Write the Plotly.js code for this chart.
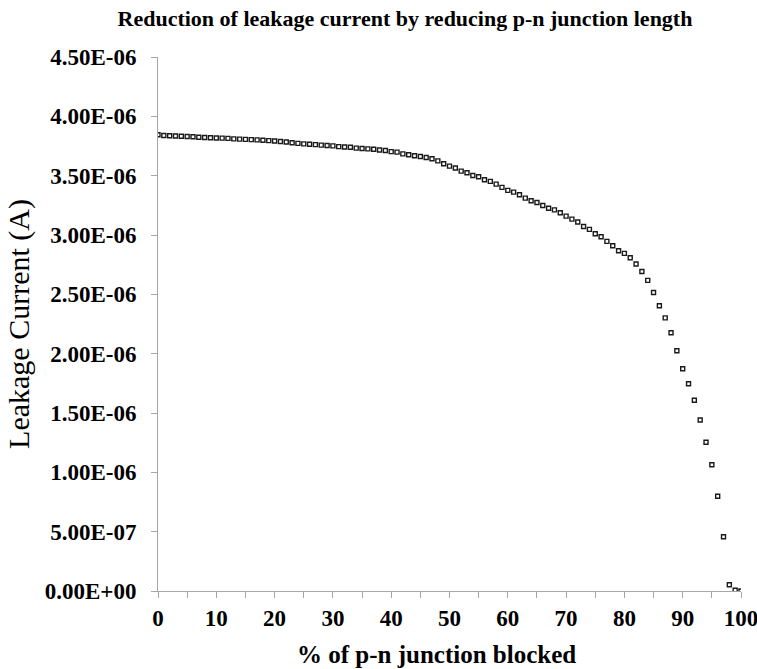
<!DOCTYPE html>
<html>
<head>
<meta charset="utf-8">
<script src="https://cdn.plot.ly/plotly-3.0.1.min.js"></script>
<style>
  html, body { margin: 0; padding: 0; background: #ffffff; }
  #chart { width: 757px; height: 669px; }
</style>
</head>
<body>
<div id="chart"></div>
<script>
// Percentage of the p-n junction that is blocked
const blockedPct = [
  0, 1, 2, 3, 4, 5, 6, 7, 8, 9,
  10, 11, 12, 13, 14, 15, 16, 17, 18, 19,
  20, 21, 22, 23, 24, 25, 26, 27, 28, 29,
  30, 31, 32, 33, 34, 35, 36, 37, 38, 39,
  40, 41, 42, 43, 44, 45, 46, 47, 48, 49,
  50, 51, 52, 53, 54, 55, 56, 57, 58, 59,
  60, 61, 62, 63, 64, 65, 66, 67, 68, 69,
  70, 71, 72, 73, 74, 75, 76, 77, 78, 79,
  80, 81, 82, 83, 84, 85, 86, 87, 88, 89,
  90, 91, 92, 93, 94, 95, 96, 97, 98, 99,
  100
];

// Leakage current in microamps for each blocked percentage
const leakageMicroA = [
  3.845, 3.838, 3.836, 3.834, 3.832, 3.830, 3.828, 3.824, 3.822, 3.820,
  3.818, 3.816, 3.814, 3.810, 3.808, 3.806, 3.804, 3.802, 3.798, 3.795,
  3.792, 3.788, 3.784, 3.778, 3.772, 3.768, 3.765, 3.762, 3.757, 3.754,
  3.751, 3.745, 3.742, 3.740, 3.732, 3.729, 3.726, 3.722, 3.716, 3.712,
  3.703, 3.698, 3.684, 3.676, 3.668, 3.661, 3.653, 3.642, 3.625, 3.600,
  3.580, 3.564, 3.538, 3.524, 3.502, 3.491, 3.465, 3.452, 3.429, 3.401,
  3.376, 3.361, 3.339, 3.311, 3.288, 3.274, 3.249, 3.226, 3.212, 3.187,
  3.159, 3.134, 3.109, 3.072, 3.047, 3.010, 2.985, 2.946, 2.909, 2.867,
  2.845, 2.808, 2.755, 2.693, 2.618, 2.516, 2.404, 2.302, 2.176, 2.024,
  1.873, 1.746, 1.607, 1.441, 1.253, 1.064, 0.798, 0.457, 0.053, 0.006,
  0.000
];

// Y-axis tick positions and their scientific labels
const yTickVals = [0, 0.5e-6, 1.0e-6, 1.5e-6, 2.0e-6, 2.5e-6, 3.0e-6, 3.5e-6, 4.0e-6, 4.5e-6];
const yTickText = ["0.00E+00", "5.00E-07", "1.00E-06", "1.50E-06", "2.00E-06",
                   "2.50E-06", "3.00E-06", "3.50E-06", "4.00E-06", "4.50E-06"];

// X-axis labelled ticks
const xTickVals = [0, 10, 20, 30, 40, 50, 60, 70, 80, 90, 100];
const xTickText = ["0", "10", "20", "30", "40", "50", "60", "70", "80", "90", "100"];

const leakageAmps = leakageMicroA.map(v => v * 1e-6);

const serif = "'Liberation Serif', 'Times New Roman', serif";
const axisGrey = "#a6a6a6";

const trace = {
  x: blockedPct,
  y: leakageAmps,
  type: "scatter",
  mode: "markers",
  marker: {
    symbol: "square",
    size: 4,
    color: "#ffffff",
    line: { color: "#1a1a1a", width: 1.4 }
  },
  hoverinfo: "x+y"
};

const layout = {
  width: 757,
  height: 669,
  margin: { l: 158, r: 16, t: 57, b: 78, pad: 0 },
  paper_bgcolor: "#ffffff",
  plot_bgcolor: "#ffffff",
  showlegend: false,
  title: {
    text: "Reduction of leakage current by reducing p-n junction length",
    font: { family: serif, size: 22, color: "#000000", weight: "bold" },
    x: 405 / 757,
    xref: "container",
    y: 0.973,
    yref: "container",
    xanchor: "center",
    yanchor: "middle"
  },
  xaxis: {
    range: [0, 100],
    tickmode: "array",
    tickvals: xTickVals,
    ticktext: xTickText,
    ticks: "outside",
    ticklen: 6,
    tickwidth: 1,
    tickcolor: axisGrey,
    minor: { dtick: 5, ticks: "outside", ticklen: 6, tickwidth: 1, tickcolor: axisGrey, showgrid: false },
    showline: true,
    linecolor: axisGrey,
    linewidth: 1,
    showgrid: false,
    zeroline: false,
    tickfont: { family: serif, size: 23, color: "#000000", weight: "bold" },
    ticklabeloverflow: "allow",
    fixedrange: true
  },
  yaxis: {
    range: [0, 4.5e-6],
    tickmode: "array",
    tickvals: yTickVals,
    ticktext: yTickText,
    ticks: "outside",
    ticklen: 6,
    tickwidth: 1,
    tickcolor: axisGrey,
    showline: true,
    linecolor: axisGrey,
    linewidth: 1,
    showgrid: false,
    zeroline: false,
    tickfont: { family: serif, size: 23, color: "#000000", weight: "bold" },
    ticklabelstandoff: 10,
    title: {
      text: "Leakage Current (A)",
      font: { family: serif, size: 30, color: "#000000" },
      standoff: 6
    },
    fixedrange: true
  },
  annotations: [
    {
      // x-axis title, set slightly left of the plot centre
      text: "% of p-n junction blocked",
      font: { family: serif, size: 25, color: "#000000", weight: "bold" },
      xref: "paper",
      yref: "paper",
      x: (436 - 158) / 583,
      y: -0.118,
      xanchor: "center",
      yanchor: "middle",
      showarrow: false
    }
  ]
};

Plotly.newPlot("chart", [trace], layout, { displayModeBar: false, staticPlot: true });
</script>
</body>
</html>
